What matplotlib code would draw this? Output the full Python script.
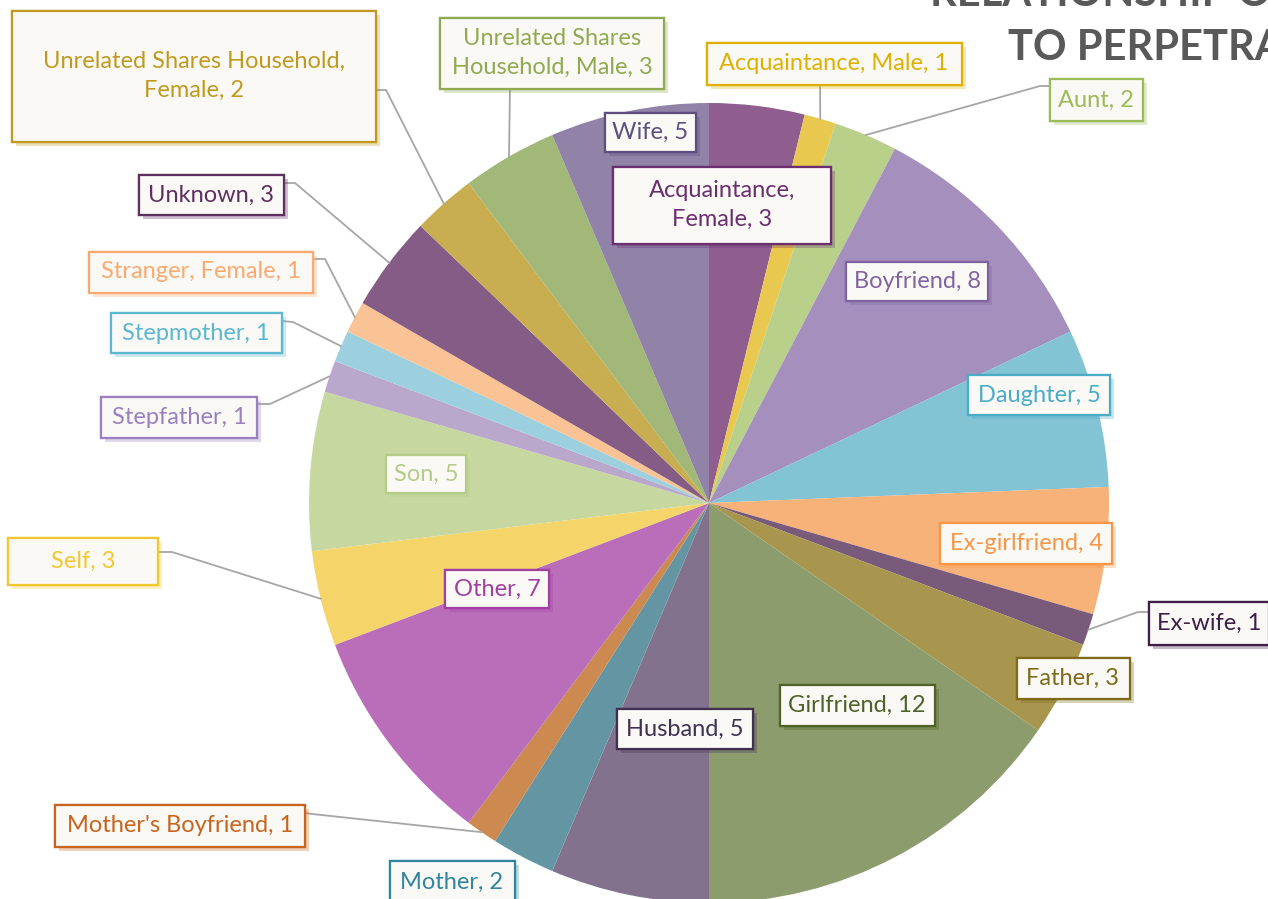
#!/usr/bin/env python3
# Relationship of victim to perpetrator - pie with boxed data labels

import numpy as np
import matplotlib.pyplot as plt
import matplotlib.patheffects as pe
from matplotlib.patches import Rectangle

W, H = 1268, 899

categories = ["Acquaintance, Female", "Acquaintance, Male", "Aunt", "Boyfriend",
              "Daughter", "Ex-girlfriend", "Ex-wife", "Father", "Girlfriend",
              "Husband", "Mother", "Mother's Boyfriend", "Other", "Self", "Son",
              "Stepfather", "Stepmother", "Stranger, Female", "Unknown",
              "Unrelated Shares Household, Female",
              "Unrelated Shares Household, Male", "Wife"]
values = [3, 1, 2, 8, 5, 4, 1, 3, 12, 5, 2, 1, 7, 3, 5, 1, 1, 1, 3, 2, 3, 5]

slice_colors = ["#8F5E8F", "#E8C84E", "#B8D08A", "#A48FBD", "#82C3D4", "#F7B27A",
                "#7A5A7A", "#A8964E", "#8C9C6C", "#82728E", "#6396A2", "#CC8A50",
                "#BA6EBA", "#F5D56A", "#C6D8A0", "#B9A7CC", "#9DD0DE", "#F9C396",
                "#845C85", "#C8AE50", "#A1B878", "#9182A8"]
label_colors = ["#6B2E6E", "#E0B000", "#9BBB59", "#8064A2", "#4BACC6", "#F79646",
                "#3F1F47", "#7F6A1A", "#4F6228", "#403152", "#31859C", "#C8641E",
                "#A040A0", "#F2C830", "#B5CC88", "#9A80C0", "#5BB8D0", "#FAAA70",
                "#5F2F5F", "#C09A20", "#8FAA50", "#5F4F80"]

line_breaks = {"Acquaintance, Female": "Acquaintance,\nFemale",
               "Unrelated Shares Household, Female": "Unrelated Shares Household,\nFemale",
               "Unrelated Shares Household, Male": "Unrelated Shares\nHousehold, Male"}

# label box layout in pixels: centre x, centre y, width, height
boxes = [(722, 205, 218, 77), (834, 64, 255, 42), (1096, 100, 93, 42),
         (917, 281, 142, 39), (1039, 395, 142, 40), (1026, 543, 172, 41),
         (1209, 623, 120, 43), (1073, 678, 113, 41), (857, 705, 155, 41),
         (685, 729, 136, 40), (452, 882, 125, 42), (180, 826, 250, 42),
         (497, 589, 104, 38), (83, 561, 150, 47), (426, 474, 80, 38),
         (179, 417, 156, 41), (196, 333, 171, 40), (201, 272, 224, 41),
         (211, 195, 145, 40), (194, 76, 364, 131), (552, 53, 224, 71),
         (650, 132, 91, 39)]
# leader start + elbow (pixels), end point comes from the wedge
leaders = {1: [(820, 85)], 2: [(1050, 86), (1040, 86)], 6: [(1149, 612), (1138, 612)],
           11: [(305, 813), (312, 814)], 13: [(160, 552), (172, 552)],
           15: [(257, 404), (270, 404)], 16: [(281, 321), (293, 322)],
           17: [(313, 259), (325, 259)], 18: [(283, 183), (295, 183)],
           19: [(376, 90), (386, 90)], 20: [(510, 88)]}

center = (709, H - 503)
radius = 400

plt.rcParams['font.family'] = ['Lato', 'DejaVu Sans']

fig = plt.figure(figsize=(W / 100, H / 100), dpi=100)
ax = fig.add_axes([0, 0, 1, 1])

wedges, _ = ax.pie(values, colors=slice_colors, startangle=90, counterclock=False,
                   center=center, radius=radius, wedgeprops=dict(linewidth=0))
ax.set_xlim(0, W)
ax.set_ylim(0, H)
ax.set_aspect('auto')
ax.axis('off')

for i, w in enumerate(wedges):
    if i in leaders:
        mid = np.deg2rad((w.theta1 + w.theta2) / 2)
        end = (center[0] + radius * np.cos(mid), center[1] + radius * np.sin(mid))
        pts = [(x, H - y) for x, y in leaders[i]] + [end]
        xs, ys = zip(*pts)
        ax.plot(xs, ys, color="#A6A6A6", lw=1.3, zorder=3)

for i, cat in enumerate(categories):
    cx, cy, bw, bh = boxes[i]
    c = label_colors[i]
    rect = Rectangle((cx - bw / 2, H - cy - bh / 2), bw, bh, facecolor="#FAF9F6",
                     edgecolor=c, lw=1.6, zorder=4)
    rect.set_path_effects([pe.withSimplePatchShadow(offset=(3, -3), shadow_rgbFace=c,
                                                    alpha=0.3), pe.Normal()])
    ax.add_patch(rect)
    txt = f"{line_breaks.get(cat, cat)}, {values[i]}"
    ax.text(cx, H - cy, txt, ha='center', va='center', color=c, fontsize=17,
            linespacing=1.5, zorder=5)

title_c = "#595959"
fig.text(930 / W, 1 - 6 / H, "RELATIONSHIP OF VICTIM", color=title_c, fontsize=30,
         fontweight='bold', va='baseline', ha='left')
fig.text(1008 / W, 1 - 60 / H, "TO PERPETRATOR", color=title_c, fontsize=30,
         fontweight='bold', va='baseline', ha='left')

fig.savefig("out.png", dpi=100)
